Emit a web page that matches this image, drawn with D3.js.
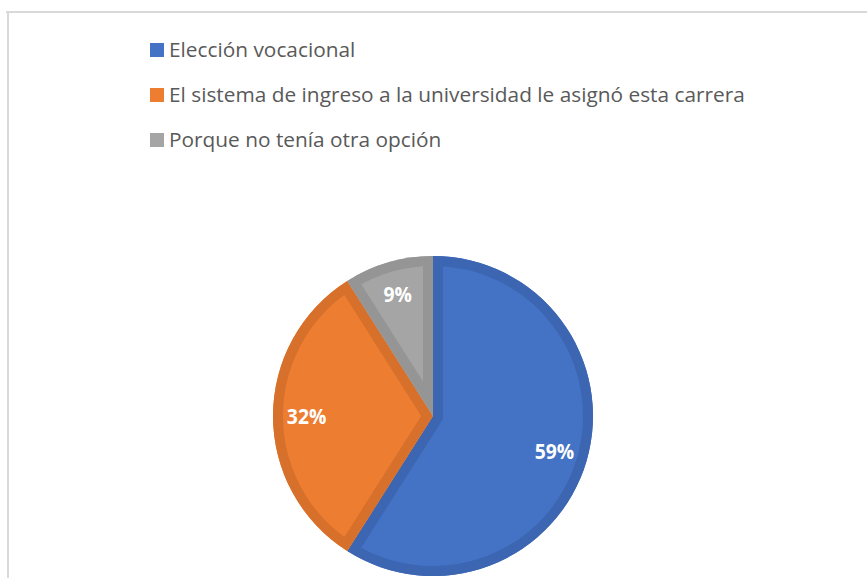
<!DOCTYPE html>
<html>
<head>
<meta charset="utf-8">
<script src="https://cdn.jsdelivr.net/npm/d3@7"></script>
<style>
  html, body { margin: 0; padding: 0; background: #fff; }
  svg { display: block; }
</style>
</head>
<body>
<svg id="chart" width="867" height="578"></svg>
<script>
// Motivo de elección de la carrera
const categories = [
  "Elección vocacional",
  "El sistema de ingreso a la universidad le asignó esta carrera",
  "Porque no tenía otra opción"
];
const values = [59, 32, 9];
const labels = ["59%", "32%", "9%"];
const fillColors = ["#4472C4", "#ED7D31", "#A5A5A5"];
const rimColors = ["#3C66B1", "#D6702B", "#959595"];

const W = 867, H = 578;
const svg = d3.select("#chart");
const FONT = "'Open Sans', 'Liberation Sans', sans-serif";

// chart-area frame (top and left edges visible)
svg.append("line").attr("x1", 6).attr("x2", W).attr("y1", 12).attr("y2", 12)
  .attr("stroke", "#d9d9d9").attr("stroke-width", 2);
svg.append("line").attr("x1", 8).attr("x2", 8).attr("y1", 11).attr("y2", H)
  .attr("stroke", "#d9d9d9").attr("stroke-width", 2);

// condense a text node horizontally so it spans the given width
function condense(sel, x, width) {
  sel.each(function () {
    const len = this.getComputedTextLength();
    const k = width / len;
    d3.select(this).attr("x", 0)
      .attr("transform", `translate(${x},0) scale(${k.toFixed(4)},1)`);
  });
}

// legend
const legendX = 150, legendTextX = 169, legendBase = 57, legendStep = 45, sq = 14;
const legend = svg.append("g");
const rows = legend.selectAll("g").data(categories).join("g")
  .attr("transform", (d, i) => `translate(0,${legendBase + i * legendStep})`);
rows.append("rect")
  .attr("x", legendX).attr("y", -sq).attr("width", sq).attr("height", sq)
  .attr("fill", (d, i) => fillColors[i]);
const texts = rows.append("text")
  .attr("y", 0)
  .attr("font-family", FONT).attr("font-size", 19.6)
  .attr("fill", "#595959")
  .text(d => d);
// common horizontal condensing, set by the longest entry
const longest = texts.nodes()[1].getComputedTextLength();
const kx = 576 / longest;
texts.attr("transform", `translate(${legendTextX},0) scale(${kx.toFixed(4)},1)`);

// pie
const cx = 433, cy = 416, r = 160, rim = 10;
const pie = d3.pie().sort(null).value(d => d)(values);
const arc = d3.arc().innerRadius(0).outerRadius(r);
const g = svg.append("g").attr("transform", `translate(${cx},${cy})`);

const defs = svg.append("defs");
pie.forEach((p, i) => {
  defs.append("clipPath").attr("id", "clip" + i)
    .append("path").attr("d", arc(p));
});

const slices = g.selectAll("g.slice").data(pie).join("g").attr("class", "slice");
slices.append("path")
  .attr("d", arc)
  .attr("fill", (d, i) => fillColors[i]);
slices.append("path")
  .attr("d", arc)
  .attr("fill", "none")
  .attr("stroke", (d, i) => rimColors[i])
  .attr("stroke-width", rim * 2)
  .attr("stroke-linejoin", "miter")
  .attr("clip-path", (d, i) => `url(#clip${i})`);

// data labels
const labelArc = d3.arc().innerRadius(r * 0.79).outerRadius(r * 0.79);
const lbl = g.selectAll("g.lbl").data(pie).join("g")
  .attr("class", "lbl")
  .attr("transform", d => {
    const [x, y] = labelArc.centroid(d);
    return `translate(${x},${y})`;
  });
lbl.append("text")
  .attr("text-anchor", "middle")
  .attr("dy", "0.36em")
  .attr("font-family", FONT)
  .attr("font-weight", "bold")
  .attr("font-size", 21)
  .attr("fill", "#ffffff")
  .attr("transform", "scale(0.92,1)")
  .text((d, i) => labels[i]);
</script>
</body>
</html>
